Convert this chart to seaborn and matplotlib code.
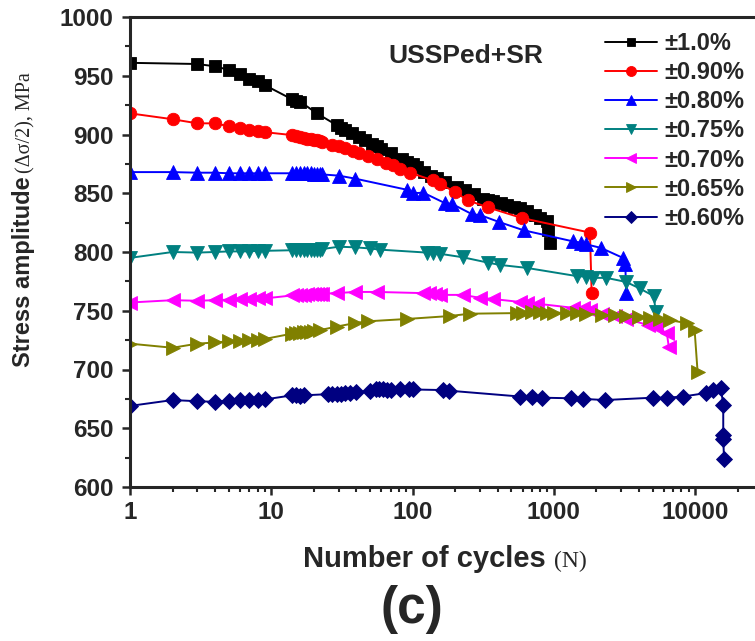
import matplotlib
matplotlib.use("Agg")
import matplotlib.pyplot as plt
from matplotlib.ticker import FixedLocator, FixedFormatter, LogLocator, MultipleLocator, NullFormatter
import seaborn as sns

# ---- data: cycles N and stress amplitude (MPa) for each strain amplitude ----
strain_labels = ["±1.0%", "±0.90%", "±0.80%", "±0.75%", "±0.70%", "±0.65%", "±0.60%"]
colors = ["#000000", "#FF0000", "#0000FF", "#008080", "#FF00FF", "#808000", "#000080"]
markers = ["s", "o", "^", "v", "<", ">", "D"]

n_100 = [1, 3, 4, 5, 6, 7, 8, 9, 14, 15, 16, 21, 29, 31, 33, 37, 42, 46, 52, 56, 60, 70, 84, 91,
         100, 107, 120, 136, 150, 170, 206, 235, 270, 317, 340, 370, 420, 462, 520, 575, 650,
         735, 800, 890, 910, 935]
s_100 = [961, 960, 958, 955, 951.5, 947, 945.5, 942, 930, 928.5, 928, 918, 908, 905.5, 904, 901,
         898, 895, 892, 890, 888, 884, 879, 877, 874.5, 872.5, 868.5, 865, 863, 860, 855, 853,
         849, 845, 844, 843, 841.5, 840, 838.5, 837.5, 835, 831.5, 829, 826, 819, 808]

n_090 = [1, 2, 3, 4, 5, 6, 7, 8, 9, 14, 15, 16, 17, 18, 19, 20, 21, 22, 23, 27, 30, 33, 38, 42,
         48, 56, 65, 73, 81, 96, 139, 156, 200, 246, 340, 590, 1800, 1850]
s_090 = [918, 913, 909.5, 909.5, 907, 905.5, 904, 903, 902, 899.5, 898.5, 898, 897, 896.5, 896,
         895.5, 895, 894.5, 894, 891, 890, 888.5, 886, 884, 882, 879, 876, 874, 871, 867.5,
         861, 858, 851, 844, 838, 829, 816.5, 765]

n_080 = [1, 2, 3, 4, 5, 6, 7, 8, 9, 14, 15, 16, 17, 18, 19, 20, 21, 22, 23, 30, 39, 91, 100, 119,
         170, 190, 265, 300, 410, 610, 1370, 1550, 1700, 2150, 3080, 3200, 3250]
s_080 = [868, 868, 867.5, 867.5, 867, 867, 867, 867, 867, 867, 867, 867, 867, 867, 867, 866.5,
         866.5, 866, 866, 865, 862.5, 853, 850, 850.5, 841.5, 841, 832, 831.5, 825.5, 818.5,
         809, 808, 806.5, 803.5, 795, 790, 765]

n_075 = [1, 2, 3, 4, 5, 6, 7, 8, 9, 14, 15, 16, 17, 18, 19, 20, 21, 22, 23, 30, 39, 50, 59, 126,
         140, 156, 227, 340, 415, 640, 1450, 1700, 1900, 2350, 3250, 4040, 5100, 5250]
s_075 = [795, 800, 799.5, 800, 800.5, 800.5, 800.5, 801, 801, 801.5, 801.5, 801.5, 802, 802, 802,
         802, 802, 802, 802.5, 804.5, 804, 803, 802, 799.5, 799, 798.5, 795.5, 791, 789, 786.5,
         779.5, 779, 778, 778, 774.5, 769, 762.5, 749]

n_070 = [1, 2, 3, 4, 5, 6, 7, 8, 9, 14, 15, 16, 17, 18, 19, 20, 21, 22, 23, 29, 39, 56, 119, 130,
         145, 156, 227, 300, 370, 575, 640, 760, 1370, 1600, 1800, 2200, 2700, 3250, 4600, 5300,
         6300, 6500]
s_070 = [757, 759, 758.5, 759, 759.5, 760, 760, 760.5, 760.5, 763, 763, 763.5, 763.5, 764, 764,
         764, 764, 764.5, 764.5, 765, 766, 766, 765, 765, 764, 763.5, 763.5, 761, 760, 757.5,
         757, 756, 752.5, 752, 751, 747, 745.5, 743, 738, 736, 731, 719.5]

n_065 = [1, 2, 3, 4, 5, 6, 7, 8, 9, 14, 15, 16, 17, 18, 19, 20, 22, 29, 39, 48, 91, 183, 254,
         545, 600, 700, 800, 900, 1000, 1230, 1450, 1700, 2200, 2700, 3250, 4000, 4800, 5600,
         6600, 8700, 9900, 10400]
s_065 = [722, 718.5, 722, 723, 724, 724.5, 725, 725.5, 726, 730.5, 731, 731, 731.5, 732, 732,
         732.5, 733.5, 736.5, 739.5, 741, 743, 745.5, 747.5, 748, 748.5, 749, 749, 748.5, 748.5,
         748, 748, 747.5, 746.5, 746, 745.5, 745, 744, 743, 742, 739.5, 734, 698]

n_060 = [1, 2, 3, 4, 5, 6, 7, 8, 9, 14, 15, 16, 17, 25, 27, 29, 31, 33, 36, 40, 50, 55, 58, 62,
         66, 70, 82, 95, 100, 165, 180, 575, 700, 830, 1330, 1600, 2300, 5000, 6300, 8200,
         12000, 13400, 15200, 15800, 15800, 15800, 16000]
s_060 = [669, 674, 673, 672.5, 673.5, 674, 674, 674, 674.5, 678, 678, 677.5, 678, 679, 679,
         679.5, 679.5, 680, 680, 680.5, 682, 683, 683, 683, 682.5, 682.5, 683, 683, 683, 682.5,
         682, 677, 676.5, 676, 675.5, 675, 674, 676, 676, 677, 680, 682.5, 684, 670, 644, 641,
         624]

cycles = [n_100, n_090, n_080, n_075, n_070, n_065, n_060]
stress = [s_100, s_090, s_080, s_075, s_070, s_065, s_060]
marker_sizes = [8, 9, 9.5, 9.5, 9.5, 9.5, 8]

x_ticks = [1, 10, 100, 1000, 10000]
x_tick_labels = ["1", "10", "100", "1000", "10000"]
y_ticks = [600, 650, 700, 750, 800, 850, 900, 950, 1000]
y_tick_labels = [str(v) for v in y_ticks]

# ---- style ----
sns.set_style("ticks")
plt.rcParams.update({
    "font.family": ["Liberation Sans", "DejaVu Sans"],
    "font.weight": "bold",
    "axes.linewidth": 2.2,
    "xtick.labelsize": 17.5,
    "ytick.labelsize": 17.5,
    "xtick.direction": "out",
    "ytick.direction": "out",
})
serif = ["Liberation Serif", "DejaVu Serif"]

W, H = 755, 641
fig = plt.figure(figsize=(W / 100, H / 100), dpi=100)
ax = fig.add_axes([130 / W, 1 - 487 / H, 632.6 / W, 470 / H])
ax.set_xscale("log")

for n, s, c, m, ms, lab in zip(cycles, stress, colors, markers, marker_sizes, strain_labels):
    sns.lineplot(x=n, y=s, ax=ax, color=c, marker=m, markersize=ms, markeredgecolor=c,
                 markeredgewidth=0.6, linewidth=1.4, sort=False, estimator=None,
                 label=lab, legend=False)

ax.set_xlim(1, 30000)
ax.set_ylim(600, 1000)
ax.xaxis.set_major_locator(FixedLocator(x_ticks))
ax.xaxis.set_major_formatter(FixedFormatter(x_tick_labels))
ax.xaxis.set_minor_locator(LogLocator(base=10, subs=range(2, 10), numticks=20))
ax.xaxis.set_minor_formatter(NullFormatter())
ax.yaxis.set_major_locator(FixedLocator(y_ticks))
ax.yaxis.set_major_formatter(FixedFormatter(y_tick_labels))
ax.yaxis.set_minor_locator(MultipleLocator(25))
ax.tick_params(which="major", length=6, width=1.8)
ax.tick_params(which="minor", length=3.6, width=1.5)
ax.tick_params(axis="x", which="major", pad=4)
ax.tick_params(axis="y", which="major", pad=6)
ax.set_xlabel("")
ax.set_ylabel("")

# legend
handles = ax.get_lines()[:len(strain_labels)]
ax.legend(handles=handles, labels=strain_labels, loc="upper left",
          bbox_to_anchor=(605 / W, 1 - 32 / H), bbox_transform=fig.transFigure,
          frameon=False, prop={"size": 17, "weight": "bold"}, handlelength=2.2,
          handletextpad=0.3, labelspacing=0.26, borderpad=0, borderaxespad=0,
          markerscale=0.8)

# annotation inside the axes
fig.text(466 / W, 1 - 56 / H, "USSPed+SR", ha="center", va="center",
         fontsize=19, weight="bold")

# axis titles: bold sans words followed by serif symbols
renderer = fig.canvas.get_renderer()
ylab1 = fig.text(30 / W, 1 - 367 / H, "Stress amplitude", rotation=90, rotation_mode="anchor",
                 ha="left", va="baseline", fontsize=17, weight="bold")
top = ylab1.get_window_extent(renderer).y1
fig.text(30 / W, (top + 3) / H, "(Δσ/2), MPa", rotation=90, rotation_mode="anchor",
         ha="left", va="baseline", fontsize=14.5, family=serif, weight="normal")

xlab1 = fig.text(446 / W - 0.19, 1 - 567 / H, "Number of cycles", ha="left", va="baseline",
                 fontsize=21, weight="bold")
right = xlab1.get_window_extent(renderer).x1
fig.text((right + 9) / W, 1 - 567 / H, "(N)", ha="left", va="baseline",
         fontsize=17, family=serif, weight="normal")

# panel tag
fig.text(412 / W, 1 - 609 / H, "(c)", ha="center", va="center", fontsize=37, weight="bold")

fig.savefig("out.png", dpi=100)
